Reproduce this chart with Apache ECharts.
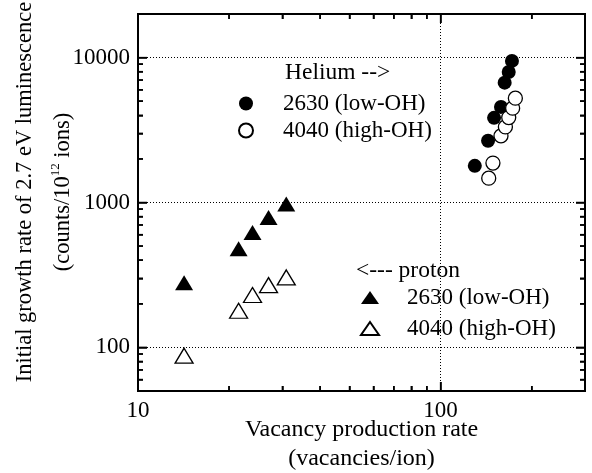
<!DOCTYPE html>
<html>
<head>
<meta charset="utf-8">
<script src="https://cdn.jsdelivr.net/npm/echarts@6/dist/echarts.min.js"></script>
<style>
  html, body { margin: 0; padding: 0; background: #fff; }
  #chart { width: 592px; height: 473px; }
</style>
</head>
<body>
<div id="chart"></div>
<script>
// Proton irradiation (triangles)
const protonX = [14.2, 21.5, 23.9, 27.0, 30.9];
const proton2630 = [279, 480, 621, 789, 975];
const proton4040 = [87.7, 179, 230, 269, 304];

// Helium irradiation (circles)
const heliumX2630 = [129.7, 143.5, 150.2, 158.3, 162.8, 167.9, 172.1];
const helium2630 = [1791, 2665, 3840, 4570, 6720, 7960, 9490];
const heliumX4040 = [144.2, 148.9, 158.3, 163.7, 167.9, 173.0, 176.6];
const helium4040 = [1472, 1870, 2883, 3325, 3855, 4480, 5250];

// Axis ranges and tick values
const X_MIN = 10, X_MAX = 300;
const Y_MIN = 50, Y_MAX = 20000;
const xMajorTicks = [10, 100];
const xMinorTicks = [20, 30, 40, 50, 60, 70, 80, 90, 200];
const yMajorTicks = [100, 1000, 10000];
const yMinorTicks = [60, 70, 80, 90, 200, 300, 400, 500, 600, 700, 800, 900,
  2000, 3000, 4000, 5000, 6000, 7000, 8000, 9000];

const legendLabels = {
  he2630: '2630 (low-OH)',
  he4040: '4040 (high-OH)',
  p2630: '2630 (low-OH)',
  p4040: '4040 (high-OH)'
};

const FONT = "'Liberation Serif', 'DejaVu Serif', serif";

function zip(xs, ys) {
  return xs.map((x, i) => [x, ys[i]]);
}

// tick-only axes on each side of the frame; they run in log10 units
// so that the uneven log ticks can be given as customValues
function tickAxis(min, max, position, values, len) {
  return {
    type: 'value',
    min: Math.log10(min),
    max: Math.log10(max),
    position,
    axisLine: { show: true, onZero: false, lineStyle: { color: '#000', width: 2 } },
    axisLabel: { show: true, formatter: () => '' },
    splitLine: { show: false },
    axisTick: {
      show: true,
      inside: true,
      length: len,
      customValues: values.map((v) => Math.log10(v)),
      lineStyle: { color: '#000', width: 1.5 }
    }
  };
}

function headerTexts() {
  return [
    { id: 'hdrHe', type: 'text', x: 285, y: 73, style: { text: 'Helium -->', font: `23.5px ${FONT}`, fill: '#000', verticalAlign: 'middle' } },
    { id: 'hdrP', type: 'text', x: 356, y: 271, style: { text: '<--- proton', font: `23.5px ${FONT}`, fill: '#000', verticalAlign: 'middle' } }
  ];
}

const filled = { color: '#000', opacity: 1 };
const open = { color: '#fff', borderColor: '#000', borderWidth: 1.3, opacity: 1 };

const option = {
  animation: false,
  grid: {
    left: 138, right: 7, top: 14, bottom: 82,
    outerBoundsMode: 'none',
    show: true, borderColor: '#000', borderWidth: 2
  },
  xAxis: [
    {
      type: 'log',
      min: X_MIN,
      max: X_MAX,
      position: 'bottom',
      axisLine: { show: false },
      axisTick: { show: false },
      splitLine: { show: true, lineStyle: { color: '#000', width: 1, type: [1, 2] } },
      axisLabel: {
        showMaxLabel: false,
        formatter: (v) => String(v),
        color: '#000', fontFamily: FONT, fontSize: 23, margin: 8
      },
      name: 'Vacancy production rate\n(vacancies/ion)',
      nameLocation: 'middle',
      nameGap: 24.5,
      nameMoveOverlap: false,
      nameTextStyle: { color: '#000', fontFamily: FONT, fontSize: 24, lineHeight: 29 }
    },
    tickAxis(X_MIN, X_MAX, 'bottom', xMajorTicks, 9),
    tickAxis(X_MIN, X_MAX, 'bottom', xMinorTicks, 5),
    tickAxis(X_MIN, X_MAX, 'top', xMajorTicks, 9),
    tickAxis(X_MIN, X_MAX, 'top', xMinorTicks, 5)
  ],
  yAxis: [
    {
      type: 'log',
      min: Y_MIN,
      max: Y_MAX,
      position: 'left',
      axisLine: { show: false },
      axisTick: { show: false },
      splitLine: { show: true, lineStyle: { color: '#000', width: 1, type: [1, 2] } },
      axisLabel: {
        showMinLabel: false,
        showMaxLabel: false,
        formatter: (v) => String(v),
        color: '#000', fontFamily: FONT, fontSize: 23, margin: 8
      },
      name: '{a|Initial growth rate of 2.7 eV luminescence}\n{a|(counts/10}{sup|12}{a| ions)}',
      nameLocation: 'middle',
      nameRotate: 90,
      nameGap: 56,
      nameMoveOverlap: false,
      nameTextStyle: {
        color: '#000', fontFamily: FONT, fontSize: 22.5,
        padding: [0, 0, 0, 21],
        rich: {
          a: { fontFamily: FONT, fontSize: 22.5, color: '#000', lineHeight: 38 },
          sup: { fontFamily: FONT, fontSize: 13, color: '#000', padding: [0, 0, 14, 0] }
        }
      }
    },
    tickAxis(Y_MIN, Y_MAX, 'left', yMajorTicks, 9),
    tickAxis(Y_MIN, Y_MAX, 'left', yMinorTicks, 5),
    tickAxis(Y_MIN, Y_MAX, 'right', yMajorTicks, 9),
    tickAxis(Y_MIN, Y_MAX, 'right', yMinorTicks, 5)
  ],
  legend: [
    {
      left: 238, top: 92, orient: 'vertical', padding: 0,
      itemWidth: 14, itemHeight: 14, itemGap: 4, selectedMode: false,
      data: [{ name: 'he2630', icon: 'circle' }, { name: 'he4040', icon: 'circle' }],
      formatter: (name) => legendLabels[name],
      textStyle: { color: '#000', fontFamily: FONT, fontSize: 23, lineHeight: 22, padding: [0, 0, 0, 25] }
    },
    {
      left: 360, top: 286, orient: 'vertical', padding: 0,
      itemWidth: 18, itemHeight: 13, itemGap: 8, selectedMode: false,
      data: [{ name: 'p2630', icon: 'triangle' }, { name: 'p4040', icon: 'triangle' }],
      formatter: (name) => legendLabels[name],
      textStyle: { color: '#000', fontFamily: FONT, fontSize: 23, lineHeight: 22, padding: [0, 0, 0, 23] }
    }
  ],
  graphic: { elements: headerTexts() },
  series: [
    { name: 'he2630', type: 'scatter', symbol: 'circle', symbolSize: 14, itemStyle: filled, data: zip(heliumX2630, helium2630), z: 3 },
    { name: 'he4040', type: 'scatter', symbol: 'circle', symbolSize: 14, itemStyle: open, data: zip(heliumX4040, helium4040), z: 4 },
    { name: 'p2630', type: 'scatter', symbol: 'triangle', symbolSize: [18, 15], itemStyle: filled, data: zip(protonX, proton2630), z: 3 },
    { name: 'p4040', type: 'scatter', symbol: 'triangle', symbolSize: [18, 15], itemStyle: open, data: zip(protonX, proton4040), z: 4 }
  ]
};

const chart = echarts.init(document.getElementById('chart'));
chart.setOption(option);

// inside ticks drawn again through the log axes' own pixel mapping
function buildTicks() {
  const toPx = (pt) => chart.convertToPixel({ xAxisIndex: 0, yAxisIndex: 0 }, pt);
  const bl = toPx([X_MIN, Y_MIN]);
  const tr = toPx([X_MAX, Y_MAX]);
  const out = [];
  const line = (x1, y1, x2, y2) => ({
    id: 'tick' + out.length,
    type: 'line',
    shape: { x1, y1, x2, y2 },
    style: { stroke: '#000', lineWidth: 1.5 }
  });
  const addX = (vals, len) => vals.forEach((v) => {
    const x = toPx([v, Y_MIN])[0];
    out.push(line(x, bl[1], x, bl[1] - len));
    out.push(line(x, tr[1], x, tr[1] + len));
  });
  const addY = (vals, len) => vals.forEach((v) => {
    const y = toPx([X_MIN, v])[1];
    out.push(line(bl[0], y, bl[0] + len, y));
    out.push(line(tr[0], y, tr[0] - len, y));
  });
  addX(xMajorTicks, 9);
  addX(xMinorTicks, 5);
  addY(yMajorTicks, 9);
  addY(yMinorTicks, 5);
  return out;
}

chart.setOption({ graphic: { elements: headerTexts().concat(buildTicks()) } });
</script>
</body>
</html>
